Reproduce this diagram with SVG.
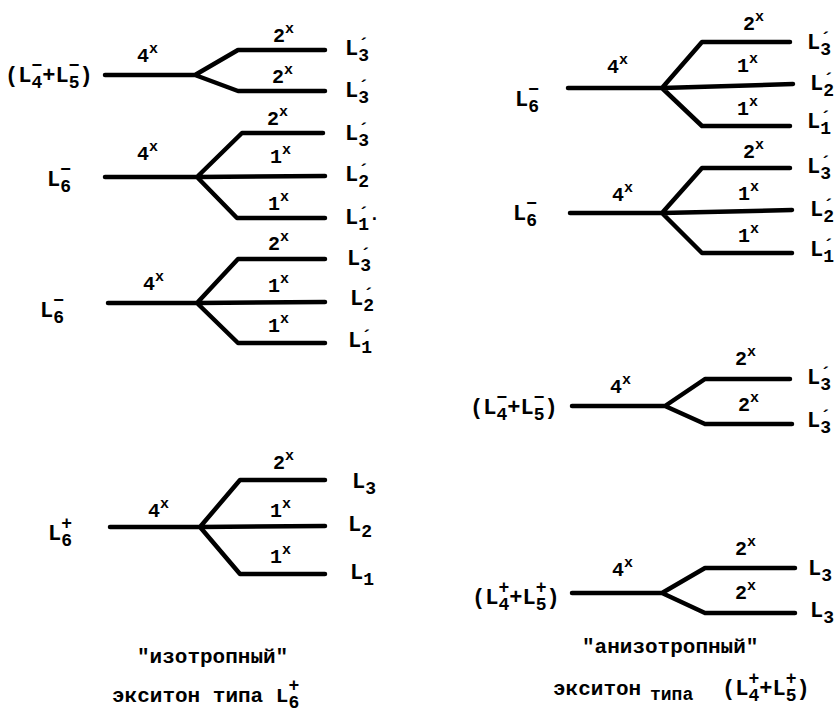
<svg xmlns="http://www.w3.org/2000/svg" width="839" height="708" viewBox="0 0 839 708">
<style>
.ln{stroke:#000;stroke-width:4.5;fill:none;stroke-linecap:round;stroke-linejoin:round}
.t{font-family:"Liberation Mono","DejaVu Sans Mono",monospace;font-weight:bold;fill:#000}
.lb{font-size:22px}
.sb{font-size:18px}
.n{font-size:20px}
.x{font-size:15px}
.cap{font-size:21px}
</style>
<rect width="839" height="708" fill="#fff"/>

<g id="connectors">
  <path class="ln" d="M105,75 H195 M195,75 L238,50 H325 M195,75 L238,91 H325"/>
  <path class="ln" d="M105,177 H197 M197,177 L242,133 H323 M197,177 L325,176 M197,177 L237,218 H325"/>
  <path class="ln" d="M108,303 H197 M197,303 L238,259 H325 M197,303 L325,302 M197,303 L238,343 H325"/>
  <path class="ln" d="M110,527 H200 M200,527 L240,480 H325 M200,527 L325,526 M200,527 L240,574 H325"/>
  <path class="ln" d="M568,88 H662 M662,88 L702,42 H790 M662,88 L793,84 M662,88 L702,126 H790"/>
  <path class="ln" d="M570,213 H662 M662,213 L702,168 H790 M662,213 L792,210 M662,213 L702,253 H792"/>
  <path class="ln" d="M572,406 H665 M665,406 L705,379 H790 M665,406 L705,424 H792"/>
  <path class="ln" d="M572,593 H662 M662,593 L705,568 H795 M662,593 L705,613 H795"/>
</g>

<!-- Left column, diagram 1 -->
<g id="left1">
  <text class="t lb" x="5" y="82">(L<tspan class="sb" dy="6">4</tspan><tspan class="sb" dx="-10.8" dy="-17">−</tspan><tspan dy="11">+L</tspan><tspan class="sb" dy="6">5</tspan><tspan class="sb" dx="-10.8" dy="-17">−</tspan><tspan dy="11">)</tspan></text>
  <text class="t n" x="137" y="62">4<tspan class="x" dy="-9">x</tspan></text>
  <text class="t n" x="273" y="42">2<tspan class="x" dy="-9">x</tspan></text>
  <text class="t n" x="272" y="83">2<tspan class="x" dy="-9">x</tspan></text>
  <text class="t lb" x="345" y="55">L<tspan class="sb" dy="6">3</tspan><tspan class="sb" dx="-10.8" dy="-10.5">´</tspan></text>
  <text class="t lb" x="345" y="97">L<tspan class="sb" dy="6">3</tspan><tspan class="sb" dx="-10.8" dy="-10.5">´</tspan></text>
</g>

<!-- Left column, diagram 2 -->
<g id="left2">
  <text class="t lb" x="47" y="186">L<tspan class="sb" dy="6">6</tspan><tspan class="sb" dx="-10.8" dy="-17">−</tspan></text>
  <text class="t n" x="137" y="160">4<tspan class="x" dy="-9">x</tspan></text>
  <text class="t n" x="267" y="125">2<tspan class="x" dy="-9">x</tspan></text>
  <text class="t n" x="270" y="163">1<tspan class="x" dy="-9">x</tspan></text>
  <text class="t n" x="268" y="210">1<tspan class="x" dy="-9">x</tspan></text>
  <text class="t lb" x="345" y="140">L<tspan class="sb" dy="6">3</tspan><tspan class="sb" dx="-10.8" dy="-10.5">´</tspan></text>
  <text class="t lb" x="345" y="181">L<tspan class="sb" dy="6">2</tspan><tspan class="sb" dx="-10.8" dy="-10.5">´</tspan></text>
  <text class="t lb" x="345" y="224">L<tspan class="sb" dy="6">1</tspan><tspan class="sb" dx="-10.8" dy="-10.5">´</tspan><tspan class="sb" dy="4.5">·</tspan></text>
</g>

<!-- Left column, diagram 3 -->
<g id="left3">
  <text class="t lb" x="40" y="317">L<tspan class="sb" dy="6">6</tspan><tspan class="sb" dx="-10.8" dy="-17">−</tspan></text>
  <text class="t n" x="143" y="290">4<tspan class="x" dy="-9">x</tspan></text>
  <text class="t n" x="268" y="250">2<tspan class="x" dy="-9">x</tspan></text>
  <text class="t n" x="268" y="292">1<tspan class="x" dy="-9">x</tspan></text>
  <text class="t n" x="268" y="332">1<tspan class="x" dy="-9">x</tspan></text>
  <text class="t lb" x="347" y="265">L<tspan class="sb" dy="6">3</tspan><tspan class="sb" dx="-10.8" dy="-10.5">´</tspan></text>
  <text class="t lb" x="350" y="305">L<tspan class="sb" dy="6">2</tspan><tspan class="sb" dx="-10.8" dy="-10.5">´</tspan></text>
  <text class="t lb" x="348" y="347">L<tspan class="sb" dy="6">1</tspan><tspan class="sb" dx="-10.8" dy="-10.5">´</tspan></text>
</g>

<!-- Left column, diagram 4 -->
<g id="left4">
  <text class="t lb" x="48" y="540">L<tspan class="sb" dy="6">6</tspan><tspan class="sb" dx="-10.8" dy="-17">+</tspan></text>
  <text class="t n" x="148" y="517">4<tspan class="x" dy="-9">x</tspan></text>
  <text class="t n" x="273" y="469">2<tspan class="x" dy="-9">x</tspan></text>
  <text class="t n" x="270" y="517">1<tspan class="x" dy="-9">x</tspan></text>
  <text class="t n" x="270" y="563">1<tspan class="x" dy="-9">x</tspan></text>
  <text class="t lb" x="352" y="488">L<tspan class="sb" dy="6">3</tspan></text>
  <text class="t lb" x="348" y="531">L<tspan class="sb" dy="6">2</tspan></text>
  <text class="t lb" x="350" y="579">L<tspan class="sb" dy="6">1</tspan></text>
</g>

<!-- Right column, diagram 1 -->
<g id="right1">
  <text class="t lb" x="515" y="106">L<tspan class="sb" dy="6">6</tspan><tspan class="sb" dx="-10.8" dy="-17">−</tspan></text>
  <text class="t n" x="607" y="73">4<tspan class="x" dy="-9">x</tspan></text>
  <text class="t n" x="743" y="30">2<tspan class="x" dy="-9">x</tspan></text>
  <text class="t n" x="737" y="72">1<tspan class="x" dy="-9">x</tspan></text>
  <text class="t n" x="737" y="115">1<tspan class="x" dy="-9">x</tspan></text>
  <text class="t lb" x="807" y="49">L<tspan class="sb" dy="6">3</tspan><tspan class="sb" dx="-10.8" dy="-10.5">´</tspan></text>
  <text class="t lb" x="810" y="90">L<tspan class="sb" dy="6">2</tspan><tspan class="sb" dx="-10.8" dy="-10.5">´</tspan></text>
  <text class="t lb" x="807" y="128">L<tspan class="sb" dy="6">1</tspan><tspan class="sb" dx="-10.8" dy="-10.5">´</tspan></text>
</g>

<!-- Right column, diagram 2 -->
<g id="right2">
  <text class="t lb" x="513" y="220">L<tspan class="sb" dy="6">6</tspan><tspan class="sb" dx="-10.8" dy="-17">−</tspan></text>
  <text class="t n" x="612" y="201">4<tspan class="x" dy="-9">x</tspan></text>
  <text class="t n" x="743" y="158">2<tspan class="x" dy="-9">x</tspan></text>
  <text class="t n" x="738" y="200">1<tspan class="x" dy="-9">x</tspan></text>
  <text class="t n" x="738" y="242">1<tspan class="x" dy="-9">x</tspan></text>
  <text class="t lb" x="807" y="173">L<tspan class="sb" dy="6">3</tspan><tspan class="sb" dx="-10.8" dy="-10.5">´</tspan></text>
  <text class="t lb" x="810" y="216">L<tspan class="sb" dy="6">2</tspan><tspan class="sb" dx="-10.8" dy="-10.5">´</tspan></text>
  <text class="t lb" x="810" y="256">L<tspan class="sb" dy="6">1</tspan><tspan class="sb" dx="-10.8" dy="-10.5">´</tspan></text>
</g>

<!-- Right column, diagram 3 -->
<g id="right3">
  <text class="t lb" x="470" y="414">(L<tspan class="sb" dy="6">4</tspan><tspan class="sb" dx="-10.8" dy="-17">−</tspan><tspan dy="11">+L</tspan><tspan class="sb" dy="6">5</tspan><tspan class="sb" dx="-10.8" dy="-17">−</tspan><tspan dy="11">)</tspan></text>
  <text class="t n" x="610" y="393">4<tspan class="x" dy="-9">x</tspan></text>
  <text class="t n" x="735" y="365">2<tspan class="x" dy="-9">x</tspan></text>
  <text class="t n" x="738" y="411">2<tspan class="x" dy="-9">x</tspan></text>
  <text class="t lb" x="807" y="384">L<tspan class="sb" dy="6">3</tspan><tspan class="sb" dx="-10.8" dy="-10.5">´</tspan></text>
  <text class="t lb" x="807" y="427">L<tspan class="sb" dy="6">3</tspan><tspan class="sb" dx="-10.8" dy="-10.5">´</tspan></text>
</g>

<!-- Right column, diagram 4 -->
<g id="right4">
  <text class="t lb" x="472" y="604">(L<tspan class="sb" dy="6">4</tspan><tspan class="sb" dx="-10.8" dy="-17">+</tspan><tspan dy="11">+L</tspan><tspan class="sb" dy="6">5</tspan><tspan class="sb" dx="-10.8" dy="-17">+</tspan><tspan dy="11">)</tspan></text>
  <text class="t n" x="612" y="576">4<tspan class="x" dy="-9">x</tspan></text>
  <text class="t n" x="735" y="555">2<tspan class="x" dy="-9">x</tspan></text>
  <text class="t n" x="735" y="599">2<tspan class="x" dy="-9">x</tspan></text>
  <text class="t lb" x="808" y="575">L<tspan class="sb" dy="6">3</tspan></text>
  <text class="t lb" x="810" y="617">L<tspan class="sb" dy="6">3</tspan></text>
</g>

<!-- Captions -->
<g id="caption-left">
  <text class="t cap" x="137" y="663">"изотропный"</text>
  <text class="t cap" x="112" y="702">экситон типа L<tspan class="sb" dy="6">6</tspan><tspan class="sb" dx="-10.8" dy="-17">+</tspan></text>
</g>
<g id="caption-right">
  <text class="t cap" x="582" y="653">"анизотропный"</text>
  <text class="t cap" x="553" y="695">экситон</text>
  <text class="t" style="font-size:18px" x="650" y="700">типа</text>
  <text class="t lb" x="722" y="695">(L<tspan class="sb" dy="6">4</tspan><tspan class="sb" dx="-10.8" dy="-17">+</tspan><tspan dy="11">+L</tspan><tspan class="sb" dy="6">5</tspan><tspan class="sb" dx="-10.8" dy="-17">+</tspan><tspan dy="11">)</tspan></text>
</g>
</svg>
